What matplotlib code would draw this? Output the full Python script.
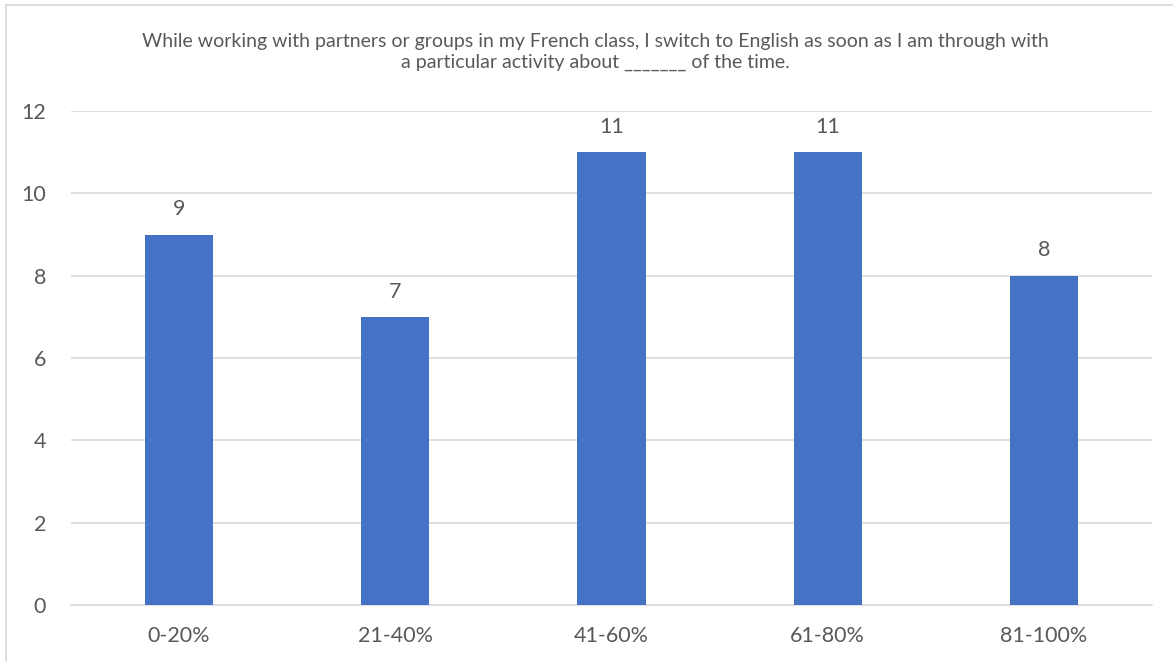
import numpy as np
import matplotlib.pyplot as plt
from matplotlib.lines import Line2D

# response counts per percentage bucket
categories = ['0-20%', '21-40%', '41-60%', '61-80%', '81-100%']
counts = [9, 7, 11, 11, 8]
y_ticks = [0, 2, 4, 6, 8, 10, 12]

title = ('While working with partners or groups in my French class, I switch to English as soon as I am through with\n'
         'a particular activity about _______ of the time.')

bar_color = '#4472C4'
text_color = '#595959'
grid_color = '#D9D9D9'

plt.rcParams['font.family'] = ['Lato', 'DejaVu Sans']

fig = plt.figure(figsize=(11.73, 6.62), dpi=100)
ax = fig.add_axes([71 / 1173, 1 - 605 / 662, (1152 - 71) / 1173, (605 - 111) / 662])

x = np.arange(len(categories))
bars = ax.bar(x, counts, width=0.315, color=bar_color, zorder=3)

for rect, v in zip(bars, counts):
    ax.annotate(str(v), (rect.get_x() + rect.get_width() / 2, v),
                xytext=(0, 11), textcoords='offset points',
                ha='center', va='bottom', fontsize=15.5, color=text_color)

ax.set_xlim(-0.5, len(categories) - 0.5)
ax.set_ylim(0, 12)
ax.set_yticks(y_ticks)
ax.set_xticks(x)
ax.set_xticklabels(categories)
ax.tick_params(axis='both', length=0, labelsize=15.5, labelcolor=text_color)
ax.tick_params(axis='y', pad=18)
ax.tick_params(axis='x', pad=15)

ax.yaxis.grid(True, color=grid_color, linewidth=1.2, zorder=0)
for side in ['top', 'right', 'left']:
    ax.spines[side].set_visible(False)
ax.spines['bottom'].set_color(grid_color)
ax.spines['bottom'].set_linewidth(1.2)

fig.text(595 / 1173, 1 - 52 / 662, title, ha='center', va='center',
         fontsize=14, color=text_color, linespacing=1.3)

# light frame on the top and left edges
fig.add_artist(Line2D([6 / 1173, 1], [1 - 5 / 662, 1 - 5 / 662],
                      transform=fig.transFigure, color='#D9D9D9', linewidth=1.2))
fig.add_artist(Line2D([6 / 1173, 6 / 1173], [0, 1 - 5 / 662],
                      transform=fig.transFigure, color='#D9D9D9', linewidth=1.2))

fig.savefig('out.png', dpi=100)
